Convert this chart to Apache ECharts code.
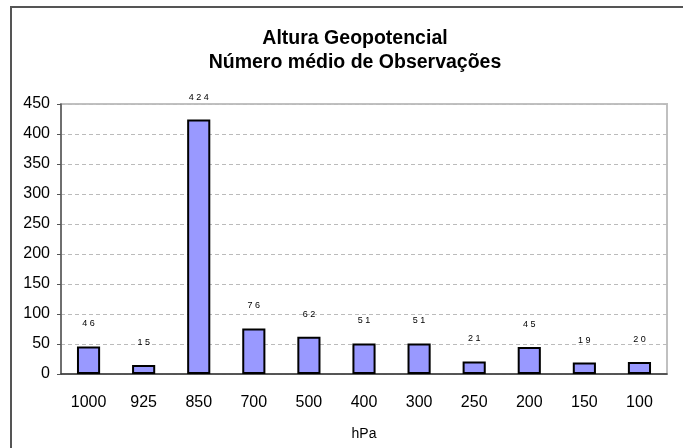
<!DOCTYPE html>
<html>
<head>
<meta charset="utf-8">
<script src="https://cdn.jsdelivr.net/npm/echarts@6/dist/echarts.min.js"></script>
<style>
  html, body { margin: 0; padding: 0; background: #fff; }
  #chart { width: 683px; height: 448px; }
</style>
</head>
<body>
<div id="chart"></div>
<script>
// dados
const niveis = ['1000', '925', '850', '700', '500', '400', '300', '250', '200', '150', '100']
const observacoes = [46, 15, 424, 76, 62, 51, 51, 21, 45, 19, 20]
const yTicks = { min: 0, max: 450, interval: 50 }

const fonte = '"Liberation Sans", Arial, sans-serif'

var myChart = echarts.init(document.getElementById('chart'))

var option = {
  animation: false,
  backgroundColor: '#fff',
  title: {
    text: 'Altura Geopotencial\nNúmero médio de Observações',
    left: 350,
    textAlign: 'center',
    top: 22,
    textStyle: {
      fontFamily: fonte,
      fontSize: 19.5,
      fontWeight: 'bold',
      color: '#000',
      lineHeight: 24
    }
  },
  graphic: [
    {
      type: 'rect',
      shape: { x: 11, y: 7, width: 700, height: 500 },
      style: { fill: 'none', stroke: '#555', lineWidth: 2 },
      silent: true,
      z: 100
    }
  ],
  grid: {
    left: 61,
    right: 16,
    top: 104,
    bottom: 74,
    show: true,
    borderColor: '#c0c0c0',
    borderWidth: 2,
    backgroundColor: '#fff'
  },
  xAxis: {
    type: 'category',
    data: niveis,
    name: 'hPa',
    nameLocation: 'middle',
    nameGap: 53,
    nameTextStyle: { fontFamily: fonte, fontSize: 14, color: '#000' },
    axisLine: { lineStyle: { color: '#333', width: 1.5 } },
    axisTick: { length: 5, lineStyle: { color: '#333', width: 1.5 } },
    axisLabel: { margin: 21, fontFamily: fonte, fontSize: 16, color: '#000' }
  },
  yAxis: {
    type: 'value',
    min: yTicks.min,
    max: yTicks.max,
    interval: yTicks.interval,
    axisLine: { show: true, lineStyle: { color: '#555', width: 1.5 } },
    axisTick: { show: true, length: 4, lineStyle: { color: '#555' } },
    axisLabel: { margin: 11, fontFamily: fonte, fontSize: 16, color: '#000' },
    splitLine: { lineStyle: { color: '#bbb', type: [4, 3], width: 1 } }
  },
  series: [
    {
      type: 'bar',
      data: observacoes,
      barWidth: '42%',
      itemStyle: { color: '#9999ff', borderColor: '#000', borderWidth: 2 },
      label: {
        show: true,
        position: 'top',
        distance: 18,
        fontFamily: fonte,
        fontSize: 9,
        color: '#000',
        formatter: p => String(p.value).split('').join(' ')
      }
    }
  ]
}

myChart.setOption(option)
</script>
</body>
</html>
